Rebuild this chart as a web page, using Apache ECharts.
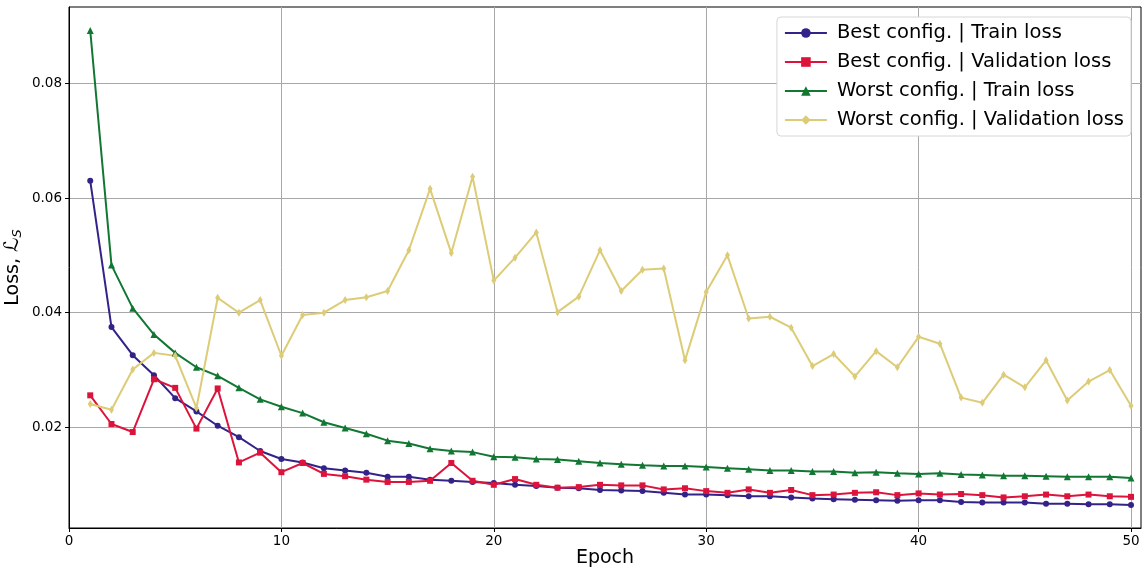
<!DOCTYPE html>
<html>
<head>
<meta charset="utf-8">
<script src="https://cdn.jsdelivr.net/npm/echarts@6/dist/echarts.min.js"></script>
<style>
  html, body { margin: 0; padding: 0; background: #fff; }
  #chart { width: 1146px; height: 572px; }
</style>
</head>
<body>
<div id="chart"></div>
<script>
// epochs 1..50
const epochs = Array.from({ length: 50 }, (_, i) => i + 1);

const bestTrain = [
  0.0630, 0.0375, 0.0326, 0.0291, 0.0251, 0.0228, 0.0203, 0.0183, 0.0159, 0.0145,
  0.0139, 0.0129, 0.0125, 0.0121, 0.0114, 0.0114, 0.0109, 0.0107, 0.0105, 0.0103,
  0.0100, 0.0098, 0.0095, 0.0094, 0.0091, 0.0090, 0.0089, 0.0086, 0.0083, 0.0083,
  0.0082, 0.0080, 0.0080, 0.0078, 0.0076, 0.0075, 0.0074, 0.0073, 0.0072, 0.0073,
  0.0073, 0.0070, 0.0069, 0.0069, 0.0069, 0.0067, 0.0067, 0.0066, 0.0066, 0.0065
];
const bestVal = [
  0.0256, 0.0206, 0.0192, 0.0284, 0.0269, 0.0198, 0.0268, 0.0139, 0.0156, 0.0122,
  0.0138, 0.0119, 0.0115, 0.0109, 0.0105, 0.0105, 0.0107, 0.0138, 0.0107, 0.0100,
  0.0110, 0.0100, 0.0095, 0.0096, 0.0100, 0.0099, 0.0099, 0.0092, 0.0094, 0.0089,
  0.0086, 0.0092, 0.0086, 0.0091, 0.0082, 0.0083, 0.0086, 0.0087, 0.0082, 0.0085,
  0.0083, 0.0084, 0.0082, 0.0078, 0.0080, 0.0083, 0.0080, 0.0083, 0.0080, 0.0079
];
const worstTrain = [
  0.0892, 0.0483, 0.0408, 0.0362, 0.0330, 0.0305, 0.0290, 0.0269, 0.0249, 0.0236,
  0.0225, 0.0209, 0.0199, 0.0189, 0.0177, 0.0172, 0.0163, 0.0159, 0.0157, 0.0149,
  0.0148, 0.0145, 0.0144, 0.0141, 0.0138, 0.0136, 0.0134, 0.0133, 0.0133, 0.0131,
  0.0129, 0.0127, 0.0125, 0.0125, 0.0123, 0.0123, 0.0121, 0.0122, 0.0120, 0.0119,
  0.0120, 0.0118, 0.0117, 0.0116, 0.0116, 0.0115, 0.0114, 0.0114, 0.0114, 0.0112
];
const worstVal = [
  0.0241, 0.0231, 0.0301, 0.0330, 0.0325, 0.0234, 0.0426, 0.0400, 0.0422, 0.0325,
  0.0396, 0.0400, 0.0422, 0.0427, 0.0438, 0.0509, 0.0616, 0.0504, 0.0637, 0.0456,
  0.0496, 0.0540, 0.0401, 0.0428, 0.0509, 0.0438, 0.0475, 0.0477, 0.0317, 0.0436,
  0.0500, 0.0390, 0.0393, 0.0374, 0.0307, 0.0328, 0.0289, 0.0333, 0.0305, 0.0358,
  0.0346, 0.0252, 0.0243, 0.0292, 0.0270, 0.0317, 0.0247, 0.0280, 0.0300, 0.0238
];

const seriesNames = [
  'Best config. | Train loss',
  'Best config. | Validation loss',
  'Worst config. | Train loss',
  'Worst config. | Validation loss'
];
const xTicks = [0, 10, 20, 30, 40, 50];
const yTicks = [0.02, 0.04, 0.06, 0.08];

const font = 'DejaVu Sans';

function pairs(vals) {
  return epochs.map((e, i) => [e, vals[i]]);
}

function lineSeries(name, vals, color, symbol, size) {
  return {
    name: name,
    type: 'line',
    data: pairs(vals),
    symbol: symbol,
    symbolSize: size,
    showSymbol: true,
    itemStyle: { color: color },
    lineStyle: { color: color, width: 2 },
    emphasis: { disabled: true },
    animation: false
  };
}

const myChart = echarts.init(document.getElementById('chart'));

const option = {
  backgroundColor: '#fff',
  grid: {
    left: 69, right: 5, top: 7, bottom: 44,
    containLabel: false,
    outerBoundsMode: 'none',
    show: true, borderColor: '#000', borderWidth: 1
  },
  legend: {
    orient: 'vertical',
    right: 15, top: 17,
    padding: [6, 7, 6, 7],
    itemWidth: 42, itemHeight: 12,
    itemGap: 9,
    backgroundColor: '#fff',
    borderColor: '#d6d6d6', borderWidth: 1, borderRadius: 4,
    textStyle: { fontFamily: font, fontSize: 19.5, color: '#000', padding: [0, 0, 0, 5] },
    data: seriesNames
  },
  xAxis: {
    type: 'value',
    min: 0, max: 50.47,
    name: 'Epoch',
    nameLocation: 'middle',
    nameGap: 21,
    nameMoveOverlap: false,
    nameTextStyle: { fontFamily: font, fontSize: 19, color: '#000' },
    axisLine: { show: true, lineStyle: { color: '#000' } },
    axisTick: { show: true, inside: false, length: 4, customValues: xTicks, lineStyle: { color: '#000' } },
    axisLabel: { customValues: xTicks, fontFamily: font, fontSize: 13.5, color: '#000', margin: 6 },
    splitLine: { show: true, lineStyle: { color: '#a8a8a8', width: 1 } }
  },
  yAxis: {
    type: 'value',
    min: 0.00247, max: 0.0933,
    name: '{a|Loss, }{b|ℒ}{c|S}',
    nameLocation: 'middle',
    nameGap: 45,
    nameMoveOverlap: false,
    nameRotate: 90,
    nameTextStyle: {
      rich: {
        a: { fontFamily: font, fontSize: 19, color: '#000', lineHeight: 22 },
        b: { fontFamily: font, fontSize: 20, color: '#000', fontStyle: 'italic', lineHeight: 22 },
        c: { fontFamily: font, fontSize: 13, color: '#000', fontStyle: 'italic', verticalAlign: 'bottom', lineHeight: 22 }
      }
    },
    axisLine: { show: true, lineStyle: { color: '#000' } },
    axisTick: { show: true, inside: false, length: 4, customValues: yTicks, lineStyle: { color: '#000' } },
    axisLabel: {
      customValues: yTicks, fontFamily: font, fontSize: 13.5, color: '#000', margin: 7,
      formatter: v => v.toFixed(2)
    },
    splitLine: { show: true, lineStyle: { color: '#a8a8a8', width: 1 } }
  },
  series: [
    lineSeries(seriesNames[0], bestTrain, '#332288', 'circle', 6),
    lineSeries(seriesNames[1], bestVal, '#DC143C', 'rect', 6),
    lineSeries(seriesNames[2], worstTrain, '#117733', 'triangle', 7),
    lineSeries(seriesNames[3], worstVal, '#DDCC77', 'diamond', [5, 8])
  ]
};

myChart.setOption(option);
</script>
</body>
</html>
